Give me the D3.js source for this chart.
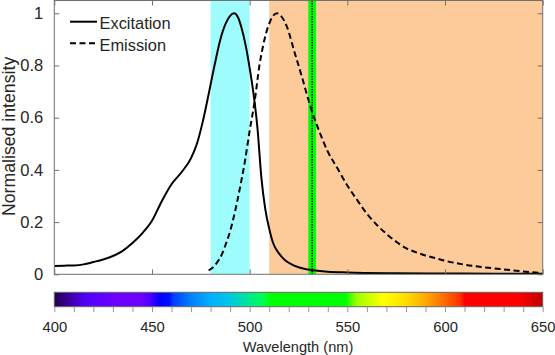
<!DOCTYPE html>
<html><head><meta charset="utf-8">
<script src="https://cdn.jsdelivr.net/npm/d3@7"></script>
<style>
html,body{margin:0;padding:0;background:#fff;}
svg{display:block;font-family:"Liberation Sans",Arial,sans-serif;}
</style></head>
<body><svg id="c" width="555" height="355"></svg>
<script>
// ---- data ----
const excWl = [400,405,410,415,420,425,430,435,440,445,450,455,460,465,470,473,476,479,482,485,488,490,492,494,496,498,500,502,504,506,508,510,512,515,518,521,525,530,540,550,575,600,625,650];
const excVal = [0.032,0.033,0.034,0.038,0.047,0.057,0.07,0.09,0.12,0.157,0.205,0.28,0.345,0.39,0.445,0.5,0.585,0.69,0.8,0.9,0.965,0.99,1.0,0.985,0.94,0.875,0.79,0.69,0.56,0.37,0.25,0.175,0.12,0.08,0.055,0.04,0.027,0.018,0.01,0.007,0.004,0.003,0.002,0.002];
const emWl = [479,481,483,486,488,490,492.5,495,497.5,500,502.5,505,507,509.5,512,514,516,519,523,527,531,535,540,545,550,555,560,565,570,575,580,585,590,595,600,610,620,630,640,650];
const emVal = [0.015,0.025,0.042,0.08,0.12,0.165,0.24,0.33,0.43,0.55,0.66,0.8,0.88,0.95,0.99,1.0,0.99,0.95,0.85,0.75,0.645,0.56,0.47,0.405,0.34,0.285,0.232,0.19,0.155,0.125,0.1,0.085,0.072,0.062,0.052,0.037,0.027,0.019,0.011,0.005];
const seriesNames = ["Excitation","Emission"];
const yTicks = [0,0.2,0.4,0.6,0.8,1];
const yTickLabels = ["0","0.2","0.4","0.6","0.8","1"];
const xTicks = [400,450,500,550,600,650];
const xTickLabels = ["400","450","500","550","600","650"];
const bandCyan = [480,500];
const bandOrange = [510,650];
const bandGreen = [530,534];
const laserLine = 532;
const cbWl = [400,408,415,420,432,444,449,454,459,461,470,480,490,500,507,511,549,555,568,579,589,599,608,610,637,650];
const cbCol = ["#200050","#3c00a0","#5000f0","#5800ff","#6e00ff","#6e00ff","#5000ff","#0000ff","#0010ff","#0040ff","#0080ff","#00b0ff","#00c8e0","#00e890","#00ff50","#00ff00","#00ff00","#a0ff00","#ffff00","#ffe000","#ffb000","#ff7000","#ff3000","#ff0000","#ff0000","#c00000"];
const xLabel = "Wavelength (nm)";
const yLabel = "Normalised intensity";

// ---- layout ----
const svg = d3.select("#c");
const L = 54.3, R = 542.7, T = 0.5, B = 274.3;
const x = d3.scaleLinear().domain([400,650]).range([L,R]);
const y = d3.scaleLinear().domain([0,1.049]).range([B,T]);
const txt = "#262626", axc = "#707070";

const defs = svg.append("defs");
defs.append("clipPath").attr("id","clip").append("rect")
  .attr("x",L).attr("y",T).attr("width",R-L).attr("height",B-T);

const g = svg.append("g").attr("clip-path","url(#clip)");
function band(r, col){
  g.append("rect").attr("x",x(r[0])).attr("y",T).attr("width",x(r[1])-x(r[0])).attr("height",B-T).attr("fill",col);
}
band(bandCyan,"#9ffcfd");
band(bandOrange,"#fdcb9a");
band(bandGreen,"#00ff00");
g.append("line").attr("x1",x(laserLine)).attr("x2",x(laserLine)).attr("y1",T).attr("y2",B)
  .attr("stroke","#000").attr("stroke-width",1.6).attr("stroke-dasharray","1.3,1.3");

const line = d3.line().x(d=>x(d[0])).y(d=>y(d[1])).curve(d3.curveMonotoneX);
g.append("path").datum(excWl.map((w,i)=>[w,excVal[i]])).attr("d",line)
  .attr("fill","none").attr("stroke","#000").attr("stroke-width",2);
g.append("path").datum(emWl.map((w,i)=>[w,emVal[i]])).attr("d",line)
  .attr("fill","none").attr("stroke","#000").attr("stroke-width",2).attr("stroke-dasharray","6,3.5");

// axes box with inward ticks
const ax = svg.append("g");
ax.append("rect").attr("x",L).attr("y",T).attr("width",R-L).attr("height",B-T)
  .attr("fill","none").attr("stroke",axc).attr("stroke-width",1);
const yAxisL = d3.axisLeft(y).tickValues(yTicks).tickFormat((d,i)=>yTickLabels[i]).tickSizeInner(-5).tickSizeOuter(0).tickPadding(11);
const gy = svg.append("g").attr("transform",`translate(${L},0)`).call(yAxisL);
gy.select(".domain").remove();
gy.selectAll("line").attr("stroke",axc);
gy.selectAll("text").attr("fill",txt).style("font-size","16.5px").style("font-family","Liberation Sans, Arial, sans-serif");
const yAxisR = d3.axisRight(y).tickValues(yTicks).tickFormat("").tickSizeInner(-5).tickSizeOuter(0);
const gyr = svg.append("g").attr("transform",`translate(${R},0)`).call(yAxisR);
gyr.select(".domain").remove(); gyr.selectAll("line").attr("stroke",axc);
const xAxisB = d3.axisBottom(x).tickValues(xTicks).tickFormat("").tickSizeInner(-5).tickSizeOuter(0);
const gxb = svg.append("g").attr("transform",`translate(0,${B})`).call(xAxisB);
gxb.select(".domain").remove(); gxb.selectAll("line").attr("stroke",axc);
const xAxisT = d3.axisTop(x).tickValues(xTicks).tickFormat("").tickSizeInner(-5).tickSizeOuter(0);
const gxt = svg.append("g").attr("transform",`translate(0,${T})`).call(xAxisT);
gxt.select(".domain").remove(); gxt.selectAll("line").attr("stroke",axc);

// y label
svg.append("text").attr("transform","translate(14.5,136.4) rotate(-90)")
  .attr("text-anchor","middle").attr("fill",txt).style("font-size","17.7px").text(yLabel);

// legend
const leg = svg.append("g");
const legY = [21.7, 43.3];
seriesNames.forEach((n,i)=>{
  leg.append("line").attr("x1",70).attr("x2",97).attr("y1",legY[i]).attr("y2",legY[i])
    .attr("stroke","#000").attr("stroke-width",2).attr("stroke-dasharray", i ? "6,3.5" : null);
  leg.append("text").attr("x",99.5).attr("y",legY[i]+7.2).attr("fill",txt).style("font-size","16.4px").text(n);
});

// colorbar
const cbT = 292.3, cbB = 306.7;
const grad = defs.append("linearGradient").attr("id","cbg").attr("x1","0%").attr("x2","100%").attr("y1","0%").attr("y2","0%");
cbWl.forEach((w,i)=>grad.append("stop").attr("offset",((w-400)/250*100)+"%").attr("stop-color",cbCol[i]));
svg.append("rect").attr("x",L).attr("y",cbT).attr("width",R-L).attr("height",cbB-cbT)
  .attr("fill","url(#cbg)").attr("stroke","#666").attr("stroke-width",1);
const cbAxis = d3.axisBottom(x).tickValues(d3.range(400,651,10)).tickFormat(d=>{const k=xTicks.indexOf(d);return k>=0?xTickLabels[k]:"";})
  .tickSizeInner(5.5).tickSizeOuter(0).tickPadding(9.5);
const gcb = svg.append("g").attr("transform",`translate(0,${cbB})`).call(cbAxis);
gcb.select(".domain").remove();
gcb.selectAll("line").attr("stroke","#999");
gcb.selectAll("text").attr("fill",txt).style("font-size","14.8px").style("font-family","Liberation Sans, Arial, sans-serif");
svg.append("text").attr("x",298).attr("y",352).attr("text-anchor","middle").attr("fill",txt).style("font-size","14.6px").text(xLabel);
</script>
</body></html>
